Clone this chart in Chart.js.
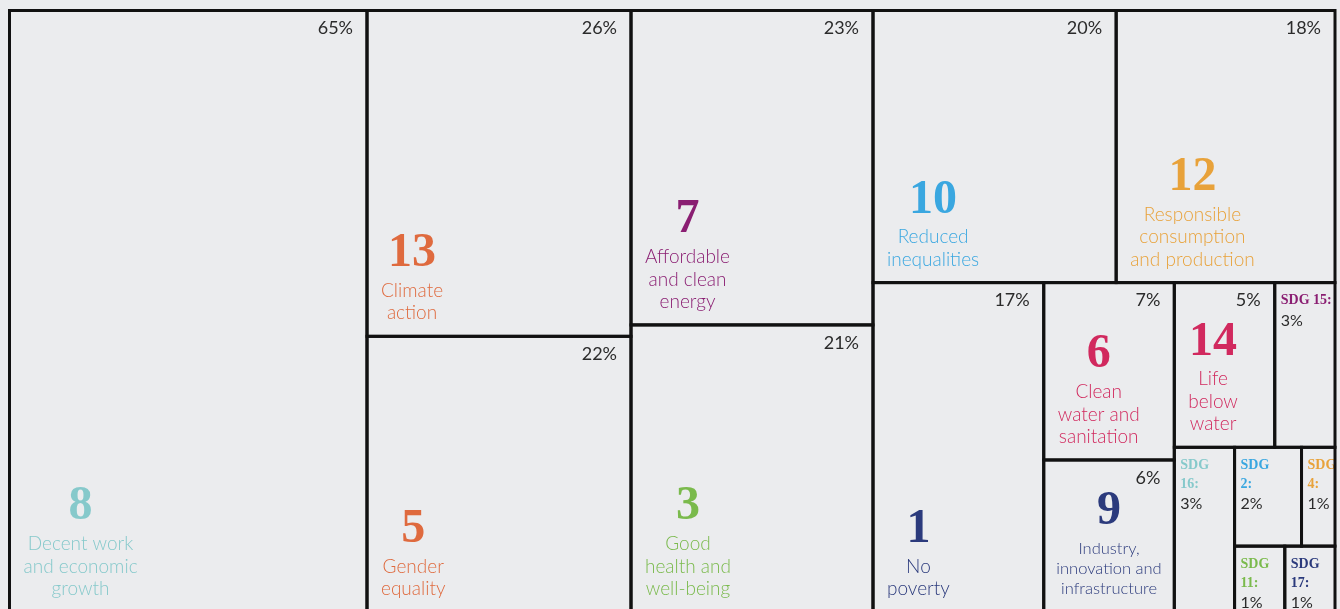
<!DOCTYPE html>
<html>
<head>
<meta charset="utf-8">
<title>SDG treemap</title>
<script src="https://cdn.jsdelivr.net/npm/chart.js@4.4.1/dist/chart.umd.min.js"></script>
<style>
  html, body { margin: 0; padding: 0; background: #ebecee; }
  #wrap { width: 1340px; height: 609px; position: relative; }
</style>
</head>
<body>
<div id="wrap"><canvas id="sdgChart"></canvas></div>
<script>
// SDG number, share of mentions (%), label lines
const goals = [8, 13, 5, 7, 3, 10, 12, 1, 6, 9, 14, 15, 16, 2, 4, 11, 17];
const shares = [65, 26, 22, 23, 21, 20, 18, 17, 7, 6, 5, 3, 3, 2, 1, 1, 1];
const names = [
  ['Decent work', 'and economic', 'growth'],
  ['Climate', 'action'],
  ['Gender', 'equality'],
  ['Affordable', 'and clean', 'energy'],
  ['Good', 'health and', 'well-being'],
  ['Reduced', 'inequalities'],
  ['Responsible', 'consumption', 'and production'],
  ['No', 'poverty'],
  ['Clean', 'water and', 'sanitation'],
  ['Industry,', 'innovation and', 'infrastructure'],
  ['Life', 'below', 'water'],
  null, null, null, null, null, null
];
// small tiles only get a tag
const tags = [
  null, null, null, null, null, null, null, null, null, null, null,
  ['SDG 15:'], ['SDG', '16:'], ['SDG', '2:'], ['SDG', '4:'], ['SDG', '11:'], ['SDG', '17:']
];
const colors = [
  '#86c9cb', '#df6a3e', '#df6a3e', '#8a1e72', '#7aba4c', '#3aa7e0', '#e8a23a', '#2b3a7c',
  '#d1295e', '#2b3a7c', '#d1295e', '#8a1e72', '#86c9cb', '#3aa7e0', '#e8a23a', '#7aba4c', '#2b3a7c'
];

// how the tiles nest: 'h' = side by side, 'v' = stacked
const nesting = ['h', 8, ['v', 13, 5], ['v', 7, 3],
  ['v', ['h', 10, 12],
        ['h', 1, ['v', 6, 9],
              ['v', ['h', 14, 15],
                    ['h', 16, ['v', ['h', 2, 4], ['h', 11, 17]]]]]]];

function total(node) {
  if (!Array.isArray(node)) return shares[goals.indexOf(node)];
  return node.slice(1).reduce((s, n) => s + total(n), 0);
}

function layout(node, x, y, w, h, out) {
  if (!Array.isArray(node)) {
    out.push({ i: goals.indexOf(node), x, y, w, h });
    return;
  }
  const dir = node[0];
  const sum = total(node);
  let pos = 0;
  node.slice(1).forEach(k => {
    const f = total(k) / sum;
    if (dir === 'h') layout(k, x + pos * w, y, f * w, h, out);
    else layout(k, x, y + pos * h, w, f * h, out);
    pos += f;
  });
}

const sans = 'Lato, "Noto Sans", sans-serif';
const serif = '"Liberation Serif", "DejaVu Serif", serif';

const treemapTiles = {
  id: 'treemapTiles',
  afterDatasetsDraw(chart) {
    const { ctx, scales: { x, y } } = chart;
    const tiles = [];
    layout(nesting, 0, 0, 100, 100, tiles);
    ctx.save();

    tiles.forEach(t => {
      const left = x.getPixelForValue(t.x);
      const right = x.getPixelForValue(t.x + t.w);
      const top = y.getPixelForValue(t.y);
      const bottom = y.getPixelForValue(t.y + t.h);
      const w = right - left;
      const color = colors[t.i];
      const lines = names[t.i];

      if (lines) {
        // percentage, top right
        ctx.font = '18px ' + sans;
        ctx.fillStyle = '#2b2b2b';
        ctx.textAlign = 'right';
        ctx.textBaseline = 'middle';
        ctx.fillText(shares[t.i] + '%', right - 14, top + 18);

        // label block, anchored bottom-left
        let size = 19, lh = 22.5;
        ctx.font = '300 ' + size + 'px ' + sans;
        let maxW = Math.max(...lines.map(l => ctx.measureText(l).width));
        if (maxW > w - 12) {
          size = 16.5; lh = 20;
          ctx.font = '300 ' + size + 'px ' + sans;
          maxW = Math.max(...lines.map(l => ctx.measureText(l).width));
        }
        const pad = Math.min(14, (w - maxW) / 2);
        const cx = left + pad + maxW / 2;
        const lastY = bottom - 23;
        const firstY = lastY - (lines.length - 1) * lh;
        ctx.textAlign = 'center';
        ctx.fillStyle = color;
        lines.forEach((l, k) => ctx.fillText(l, cx, firstY + k * lh));
        ctx.font = 'bold 48px ' + serif;
        ctx.fillText(String(goals[t.i]), cx, firstY - 37);
      } else {
        // small tile: "SDG n:" then the share
        ctx.font = 'bold 14px ' + serif;
        ctx.textAlign = 'left';
        ctx.textBaseline = 'middle';
        ctx.fillStyle = color;
        let ly = top + 18;
        tags[t.i].forEach(l => { ctx.fillText(l, left + 6, ly); ly += 19; });
        ctx.font = '16px ' + sans;
        ctx.fillStyle = '#2b2b2b';
        ctx.fillText(shares[t.i] + '%', left + 6, ly + 1);
      }
    });

    ctx.strokeStyle = '#111';
    ctx.lineWidth = 3;
    tiles.forEach(t => {
      const left = x.getPixelForValue(t.x);
      const right = x.getPixelForValue(t.x + t.w);
      const top = y.getPixelForValue(t.y);
      const bottom = y.getPixelForValue(t.y + t.h);
      ctx.strokeRect(left, top, right - left, bottom - top);
    });
    ctx.restore();
  }
};

new Chart(document.getElementById('sdgChart'), {
  type: 'scatter',
  data: { datasets: [] },
  options: {
    responsive: true,
    maintainAspectRatio: false,
    animation: false,
    layout: { padding: { left: 9.5, top: 10.5, right: 5, bottom: 0 } },
    scales: {
      x: { type: 'linear', min: 0, max: 100, display: false },
      y: { type: 'linear', min: 0, max: 99.5, reverse: true, display: false }
    },
    plugins: {
      legend: { display: false },
      title: { display: false },
      tooltip: { enabled: false }
    }
  },
  plugins: [treemapTiles]
});
</script>
</body>
</html>
